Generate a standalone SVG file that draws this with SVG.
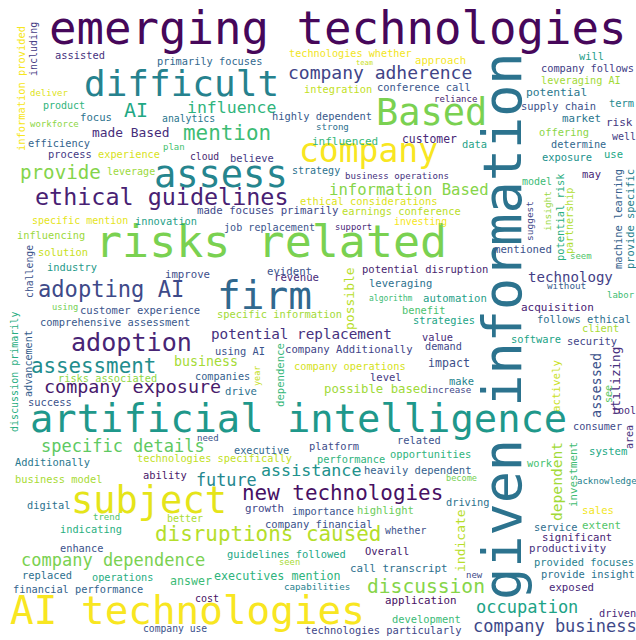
<svg xmlns="http://www.w3.org/2000/svg" width="636" height="640" viewBox="0 0 636 640">
<style>
text{font-family:"DejaVu Sans Mono","Liberation Mono",monospace;}
</style>
<rect width="636" height="640" fill="#ffffff"/>
<g id="words">
<text x="49" y="44" font-size="45.7" fill="#46075a">emerging technologies</text>
<text transform="translate(521,600) rotate(-90)" font-size="53.5" fill="#2c738e">given information</text>
<text x="84" y="96" font-size="36" fill="#26828e">difficult</text>
<text x="154" y="187" font-size="37" fill="#25858e">assess</text>
<text x="299" y="162" font-size="33" fill="#f8e621">company</text>
<text x="376" y="125" font-size="37" fill="#7ad151">Based</text>
<text x="95" y="257" font-size="45" fill="#7ad151">risks related</text>
<text x="217" y="309" font-size="39.4" fill="#31688e">firm</text>
<text x="30" y="432" font-size="38.8" fill="#1f988b">artificial intelligence</text>
<text x="10" y="624" font-size="39.3" fill="#f8e621">AI technologies</text>
<text x="71" y="513" font-size="37" fill="#e5e419">subject</text>
<text x="35" y="205" font-size="23.4" fill="#482173">ethical guidelines</text>
<text x="288" y="79" font-size="18" fill="#414487">company adherence</text>
<text x="183" y="140" font-size="20.9" fill="#3dbc74">mention</text>
<text x="20" y="179" font-size="19.2" fill="#84d44b">provide</text>
<text x="187" y="113" font-size="16.5" fill="#2fb47c">influence</text>
<text x="124" y="117" font-size="20" fill="#22a884">AI</text>
<text x="329" y="195" font-size="15.6" fill="#86d549">information Based</text>
<text x="38" y="297" font-size="22.1" fill="#3e4a89">adopting AI</text>
<text x="71" y="351" font-size="25.1" fill="#482475">adoption</text>
<text x="31" y="373" font-size="20.8" fill="#228d8d">assessment</text>
<text x="44" y="393" font-size="18.4" fill="#481a6c">company exposure</text>
<text x="211" y="339" font-size="14.3" fill="#46327e">potential replacement</text>
<text x="324" y="393" font-size="12.3" fill="#a0da39">possible based</text>
<text x="174" y="366" font-size="13.3" fill="#a5db36">business</text>
<text x="528" y="282" font-size="14.1" fill="#433e85">technology</text>
<text x="41" y="452" font-size="17" fill="#5ec962">specific details</text>
<text x="196" y="486" font-size="16.8" fill="#24878e">future</text>
<text x="261" y="476" font-size="16.7" fill="#21918c">assistance</text>
<text x="242" y="500" font-size="20.9" fill="#471063">new technologies</text>
<text x="155" y="541" font-size="20.9" fill="#b5de2b">disruptions caused</text>
<text x="21" y="566" font-size="17" fill="#7ad151">company dependence</text>
<text x="367" y="593" font-size="19.6" fill="#86d549">discussion</text>
<text x="476" y="613" font-size="17" fill="#20a386">occupation</text>
<text x="473" y="632" font-size="17" fill="#3e4989">company business</text>
<text x="214" y="580" font-size="11.7" fill="#2eb37c">executives mention</text>
<text x="170" y="585" font-size="11.6" fill="#3bbb75">answer</text>
<text x="92" y="137" font-size="12.9" fill="#472d7b">made Based</text>

<text transform="translate(37,76) rotate(-90)" font-size="10" fill="#443a83">including</text>
<text transform="translate(25,151) rotate(-90)" font-size="10.4" fill="#f6e620">information provided</text>
<text x="55" y="59" font-size="10.4" fill="#46327e">assisted</text>
<text x="157" y="65" font-size="10.3" fill="#31688e">primarily focuses</text>
<text x="30" y="96" font-size="9" fill="#dde318">deliver</text>
<text x="43" y="109" font-size="10" fill="#2fb47c">product</text>
<text x="80" y="121" font-size="10.6" fill="#2c728e">focus</text>
<text x="30" y="127" font-size="9" fill="#8ed645">workforce</text>
<text x="162" y="122" font-size="9.8" fill="#2a768e">analytics</text>
<text x="28" y="147" font-size="10.3" fill="#33638d">efficiency</text>
<text x="163" y="150" font-size="9" fill="#44bf70">plan</text>
<text x="48" y="158" font-size="10.4" fill="#443983">process</text>
<text x="98" y="158" font-size="10.3" fill="#d8e219">experience</text>
<text x="190" y="160" font-size="9.7" fill="#481f70">cloud</text>
<text x="107" y="175" font-size="10" fill="#9bd93c">leverage</text>

<text x="289" y="57" font-size="10.2" fill="#f1e51d">technologies whether</text>
<text x="356" y="65" font-size="7" fill="#c8e020">team</text>
<text x="415" y="64" font-size="10.6" fill="#f4e61e">approach</text>
<text x="377" y="91" font-size="10.4" fill="#39568c">conference call</text>
<text x="304" y="93" font-size="10.3" fill="#c2df23">integration</text>
<text x="272" y="120" font-size="10.4" fill="#38598c">highly dependent</text>
<text x="316" y="130" font-size="9.1" fill="#2d708e">strong</text>
<text x="312" y="145" font-size="11" fill="#35b779">influenced</text>
<text x="402" y="143" font-size="11.4" fill="#482878">customer</text>
<text x="230" y="162" font-size="10.4" fill="#443983">believe</text>
<text x="292" y="174" font-size="10" fill="#2c728e">strategy</text>
<text x="345" y="179" font-size="9.1" fill="#46327e">business operations</text>
<text x="300" y="205" font-size="10.4" fill="#dde318">ethical considerations</text>
<text x="197" y="214" font-size="10.7" fill="#3e4a89">made focuses primarily</text>
<text x="342" y="215" font-size="10.4" fill="#bade28">earnings conference</text>

<text x="579" y="60" font-size="10.4" fill="#1f9e89">will</text>
<text x="541" y="72" font-size="10.3" fill="#424086">company follows</text>
<text x="541" y="84" font-size="10.2" fill="#a2da37">leveraging AI</text>
<text x="526" y="96" font-size="11.3" fill="#2a788e">potential</text>
<text x="521" y="110" font-size="10.4" fill="#3b528b">supply chain</text>
<text x="609" y="107" font-size="10.4" fill="#23898e">term</text>
<text x="434" y="102" font-size="9" fill="#481d6f">reliance</text>
<text x="562" y="122" font-size="10.8" fill="#2a768e">market</text>
<text x="606" y="126" font-size="11" fill="#453781">risk</text>
<text x="539" y="136" font-size="10.4" fill="#8bd646">offering</text>
<text x="612" y="140" font-size="10" fill="#433e85">well</text>
<text x="462" y="148" font-size="10.4" fill="#1fa287">data</text>
<text x="551" y="148" font-size="10.2" fill="#31678e">determine</text>
<text x="542" y="161" font-size="10.4" fill="#21918c">exposure</text>
<text x="604" y="158" font-size="10.5" fill="#22a785">use</text>
<text x="582" y="178" font-size="10.5" fill="#482677">may</text>
<text x="522" y="185" font-size="10" fill="#3bbb75">model</text>
<text transform="translate(533,241) rotate(-90)" font-size="9.5" fill="#3f4889">suggest</text>
<text transform="translate(551,231) rotate(-90)" font-size="9.5" fill="#98d83e">insight</text>
<text transform="translate(564,261) rotate(-90)" font-size="10.4" fill="#29af7f">potential risk</text>
<text transform="translate(573,254) rotate(-90)" font-size="10" fill="#b0dd2f">partnership</text>
<text x="570" y="259" font-size="9" fill="#52c569">seem</text>
<text transform="translate(622,269) rotate(-90)" font-size="10.4" fill="#355f8d">machine learning</text>
<text transform="translate(634,269) rotate(-90)" font-size="10.4" fill="#26818e">provide specific</text>
<text x="494" y="253" font-size="10.7" fill="#3b528b">mentioned</text>
<text x="547" y="289" font-size="9.3" fill="#365c8d">without</text>
<text x="607" y="298" font-size="9" fill="#3fbc73">labor</text>

<text x="32" y="224" font-size="10" fill="#e5e419">specific mention</text>
<text x="135" y="225" font-size="10.3" fill="#1fa088">innovation</text>
<text x="17" y="239" font-size="10.3" fill="#9bd93c">influencing</text>
<text x="38" y="256" font-size="10.4" fill="#c8e020">solution</text>
<text transform="translate(33,298) rotate(-90)" font-size="9.8" fill="#3b528b">challenge</text>
<text x="47" y="271" font-size="10.4" fill="#1f9a8a">industry</text>
<text x="165" y="278" font-size="10.7" fill="#3d4e8a">improve</text>
<text x="52" y="310" font-size="8.7" fill="#75d054">using</text>
<text x="80" y="314" font-size="10.5" fill="#3a548c">customer experience</text>
<text x="40" y="326" font-size="10.4" fill="#38598c">comprehensive assessment</text>
<text transform="translate(18,432) rotate(-90)" font-size="10" fill="#27ad81">discussion primarily</text>
<text transform="translate(32,397) rotate(-90)" font-size="10.1" fill="#355e8d">advancement</text>
<text x="58" y="382" font-size="10.3" fill="#90d743">risks associated</text>
<text x="195" y="380" font-size="10.2" fill="#355f8d">companies</text>
<text x="28" y="406" font-size="10.4" fill="#3b528b">success</text>

<text x="224" y="231" font-size="10.1" fill="#3a548c">job replacement</text>
<text x="335" y="230" font-size="8.8" fill="#482878">support</text>
<text x="394" y="225" font-size="9.8" fill="#f6e620">investing</text>
<text x="267" y="275" font-size="10.7" fill="#3b528b">evident</text>
<text x="274" y="281" font-size="10.7" fill="#472a7a">revenue</text>
<text transform="translate(354,330) rotate(-90)" font-size="13" fill="#b8de29">possible</text>
<text x="362" y="273" font-size="10.5" fill="#481f70">potential disruption</text>
<text x="369" y="287" font-size="10.5" fill="#2d718e">leveraging</text>
<text x="369" y="301" font-size="8" fill="#3dbc74">algorithm</text>
<text x="217" y="318" font-size="10.4" fill="#a2da37">specific information</text>
<text x="402" y="314" font-size="10.3" fill="#4ac16d">benefit</text>
<text x="413" y="324" font-size="10.3" fill="#20a486">strategies</text>
<text x="423" y="302" font-size="10.6" fill="#1fa088">automation</text>
<text x="215" y="355" font-size="10.4" fill="#3b528b">using AI</text>
<text x="285" y="353" font-size="10.6" fill="#414487">company Additionally</text>
<text transform="translate(284,407) rotate(-90)" font-size="10.6" fill="#35b779">dependence</text>
<text transform="translate(260,386) rotate(-90)" font-size="8.5" fill="#c5e021">year</text>
<text x="294" y="370" font-size="10.3" fill="#d5e21a">company operations</text>
<text x="370" y="381" font-size="10.5" fill="#443a83">level</text>
<text x="225" y="395" font-size="10.6" fill="#2d708e">drive</text>
<text x="422" y="341" font-size="10.3" fill="#472c7a">value</text>
<text x="425" y="350" font-size="10.2" fill="#3e4989">demand</text>
<text x="428" y="367" font-size="11.6" fill="#3c4f8a">impact</text>
<text x="449" y="385" font-size="10.4" fill="#25848e">make</text>
<text x="427" y="393" font-size="9.2" fill="#3f4889">increase</text>

<text x="521" y="311" font-size="11" fill="#482173">acquisition</text>
<text x="537" y="323" font-size="10.4" fill="#2e6f8e">follows ethical</text>
<text x="582" y="332" font-size="10.3" fill="#a8db34">client</text>
<text x="511" y="343" font-size="10.4" fill="#20a386">software</text>
<text x="567" y="345" font-size="10.4" fill="#414487">security</text>
<text transform="translate(601,418) rotate(-90)" font-size="13.5" fill="#3b528b">assessed</text>
<text transform="translate(620,415) rotate(-90)" font-size="12.6" fill="#472f7d">utilizing</text>
<text transform="translate(560,412) rotate(-90)" font-size="10.8" fill="#cae11f">actively</text>
<text transform="translate(612,403) rotate(-90)" font-size="10" fill="#5cc863">see</text>
<text x="612" y="414" font-size="10" fill="#482878">tool</text>
<text x="573" y="430" font-size="10.2" fill="#3e4989">consumer</text>
<text transform="translate(633,449) rotate(-90)" font-size="10" fill="#46327e">area</text>

<text x="390" y="458" font-size="10.4" fill="#2fb47c">opportunities</text>
<text x="397" y="444" font-size="10.4" fill="#3b528b">related</text>
<text x="364" y="474" font-size="10.5" fill="#355f8d">heavily dependent</text>
<text x="446" y="481" font-size="8.6" fill="#75d054">become</text>
<text x="446" y="506" font-size="10.3" fill="#2c728e">driving</text>
<text transform="translate(465,572) rotate(-90)" font-size="13" fill="#b8de29">indicate</text>
<text transform="translate(562,521) rotate(-90)" font-size="14.6" fill="#a2da37">dependent</text>
<text transform="translate(577,507) rotate(-90)" font-size="10.8" fill="#3fbc73">investment</text>
<text x="589" y="455" font-size="10.6" fill="#22a884">system</text>
<text x="527" y="467" font-size="10.4" fill="#44bf70">work</text>
<text x="577" y="484" font-size="9" fill="#26818e">acknowledge</text>
<text x="582" y="514" font-size="10.6" fill="#f1e51d">sales</text>
<text x="582" y="529" font-size="10.8" fill="#52c569">extent</text>
<text x="534" y="531" font-size="10.3" fill="#2e6e8e">service</text>
<text x="542" y="541" font-size="10.6" fill="#482475">significant</text>
<text x="529" y="552" font-size="10.7" fill="#46307e">productivity</text>
<text x="534" y="566" font-size="10.4" fill="#277f8e">provided focuses</text>
<text x="541" y="578" font-size="10.4" fill="#2c728e">provide insight</text>
<text x="466" y="578" font-size="9" fill="#3e4a89">new</text>
<text x="549" y="591" font-size="10.7" fill="#482878">exposed</text>
<text x="350" y="572" font-size="10.8" fill="#2d708e">call transcript</text>
<text x="365" y="555" font-size="10.5" fill="#481b6d">Overall</text>
<text x="385" y="534" font-size="9.8" fill="#3b528b">whether</text>
<text x="385" y="604" font-size="10.8" fill="#471164">application</text>
<text x="392" y="623" font-size="10.4" fill="#3aba76">development</text>
<text x="305" y="634" font-size="10.4" fill="#404688">technologies particularly</text>
<text x="599" y="617" font-size="10.3" fill="#482878">driven</text>

<text x="234" y="454" font-size="10.2" fill="#31688e">executive</text>
<text x="309" y="450" font-size="10.4" fill="#3e4c8a">platform</text>
<text x="137" y="462" font-size="10.3" fill="#c2df23">technologies specifically</text>
<text x="317" y="463" font-size="10.3" fill="#2eb37c">performance</text>
<text x="197" y="441" font-size="9" fill="#3b528b">need</text>
<text x="245" y="512" font-size="10.8" fill="#3f4889">growth</text>
<text x="292" y="515" font-size="10.3" fill="#3a548c">importance</text>
<text x="357" y="514" font-size="10.5" fill="#6ccd5a">highlight</text>
<text x="265" y="528" font-size="10.5" fill="#3b528b">company financial</text>
<text x="227" y="558" font-size="10.4" fill="#22a785">guidelines followed</text>
<text x="279" y="565" font-size="8.8" fill="#a8db34">seen</text>
<text x="284" y="590" font-size="9.2" fill="#26818e">capabilities</text>
<text x="195" y="602" font-size="10" fill="#471365">cost</text>
<text x="143" y="632" font-size="9.7" fill="#3b528b">company use</text>

<text x="15" y="466" font-size="10.4" fill="#2a788e">Additionally</text>
<text x="15" y="483" font-size="10.4" fill="#a8db34">business model</text>
<text x="143" y="479" font-size="10.4" fill="#481769">ability</text>
<text x="27" y="509" font-size="10.3" fill="#2c728e">digital</text>
<text x="93" y="520" font-size="9" fill="#50c46a">trend</text>
<text x="167" y="522" font-size="10" fill="#aadc32">better</text>
<text x="60" y="533" font-size="10.3" fill="#29af7f">indicating</text>
<text x="60" y="552" font-size="10.3" fill="#3b528b">enhance</text>
<text x="22" y="579" font-size="10.4" fill="#2d708e">replaced</text>
<text x="92" y="581" font-size="10.2" fill="#27ad81">operations</text>
<text x="13" y="593" font-size="10.3" fill="#33638d">financial performance</text>
</g>
</svg>
